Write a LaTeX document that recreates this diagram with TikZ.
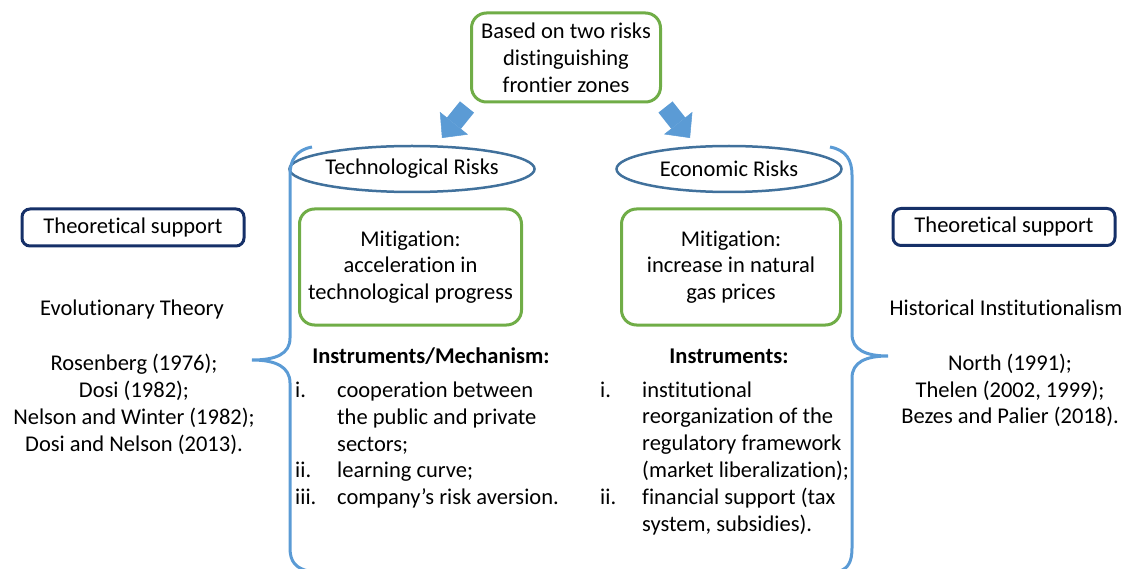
\documentclass[tikz,border=0pt]{standalone}
\usepackage{fontspec}
\setmainfont{Carlito}[Ligatures={NoCommon,NoContextual,NoRare},RawFeature={-liga;-clig;-calt;-dlig}]
\usetikzlibrary{shapes.geometric,arrows.meta}

\definecolor{boxgreen}{RGB}{112,173,71}
\definecolor{ovalblue}{RGB}{65,113,156}
\definecolor{supportnavy}{RGB}{22,48,104}
\definecolor{braceblue}{RGB}{91,155,213}

\newcommand{\listnum}[1]{\makebox[42pt][l]{#1}}
\newcommand{\listpad}{\hspace*{42pt}}

\tikzset{
	plain/.style={inner sep=0pt, align=center},
	greenbox/.style={draw=boxgreen, line width=3pt, rounded corners=15pt, inner sep=0pt, align=center},
	riskoval/.style={ellipse, draw=ovalblue, line width=2.5pt, inner sep=0pt, minimum height=46pt},
	supportbox/.style={draw=supportnavy, line width=3pt, rounded corners=8pt, inner sep=0pt, minimum width=222pt, minimum height=37pt},
	bigarrow/.style={line width=18pt, draw=braceblue, -{Triangle[length=19pt, width=36pt, line width=0.5pt]}},
	brace/.style={draw=braceblue, line width=3pt}
}

\begin{document}
\begin{tikzpicture}[x=1pt, y=-1pt, font=\fontsize{22.5}{26.8}\selectfont]
		\useasboundingbox (0,0) rectangle (1132,569);

		\coordinate (techtail) at (467,107);
		\coordinate (techtip) at (442,138);
		\coordinate (econtail) at (665.5,107);
		\coordinate (econtip) at (690,138);
		\draw[bigarrow] (techtail) -- (techtip);
		\draw[bigarrow] (econtail) -- (econtip);

		\node[greenbox, fill=white, minimum width=189pt, minimum height=89pt] (base) at (566,57.5) {Based on two risks\\distinguishing\\frontier zones};

		\node[riskoval, minimum width=226pt] (tech) at (412,169) {Technological Risks};
		\node[riskoval, minimum width=225pt] (econ) at (729,169) {Economic Risks};

		\node[greenbox, minimum width=222pt, minimum height=116pt] (techmit) at (410.5,267) {Mitigation:\\acceleration in\\technological progress};
		\node[greenbox, minimum width=219pt, minimum height=116pt] (econmit) at (731,267) {Mitigation:\\increase in natural\\gas prices};

		\node[plain, anchor=base] (techinst) at (431,363) {\bfseries Instruments/Mechanism:};
		\node[plain, anchor=base] (econinst) at (729,363) {\bfseries Instruments:};

		\node[inner sep=0pt, align=left, anchor=west] (techlist) at (295,445) {\listnum{i.}cooperation between\\\listpad the public and private\\\listpad sectors;\\\listnum{ii.}learning curve;\\\listnum{iii.}company’s risk aversion.};
		\node[inner sep=0pt, align=left, anchor=west] (econlist) at (600,458) {\listnum{i.}institutional\\\listpad reorganization of the\\\listpad regulatory framework\\\listpad (market liberalization);\\\listnum{ii.}financial support (tax\\\listpad system, subsidies).};

		\node[supportbox] (techsupport) at (133,227.5) {Theoretical support};
		\node[plain, anchor=base] (evol) at (132,315) {Evolutionary Theory};
		\node[plain] (evolrefs) at (134,404.5) {Rosenberg (1976);\\Dosi (1982);\\Nelson and Winter (1982);\\Dosi and Nelson (2013).};

		\node[supportbox] (econsupport) at (1004,227) {Theoretical support};
		\node[plain, anchor=base] (hist) at (1006,315) {Historical Institutionalism};
		\node[plain] (histrefs) at (1010,390.5) {North (1991);\\Thelen (2002, 1999);\\Bezes and Palier (2018).};

		\draw[brace] (312,147) .. controls (296,150) and (290,160) .. (290,175) -- (290,338) .. controls (290,354) and (276,360) .. (252,360) .. controls (276,360) and (290,367) .. (290,383) -- (290,548) .. controls (290,562) and (296,568) .. (308,571);
		\draw[brace] (830,147) .. controls (846,150) and (852,160) .. (852,175) -- (852,334) .. controls (852,350) and (866,356) .. (888,356) .. controls (866,356) and (852,362) .. (852,378) -- (852,548) .. controls (852,562) and (848,568) .. (840,571);
	\end{tikzpicture}
\end{document}
